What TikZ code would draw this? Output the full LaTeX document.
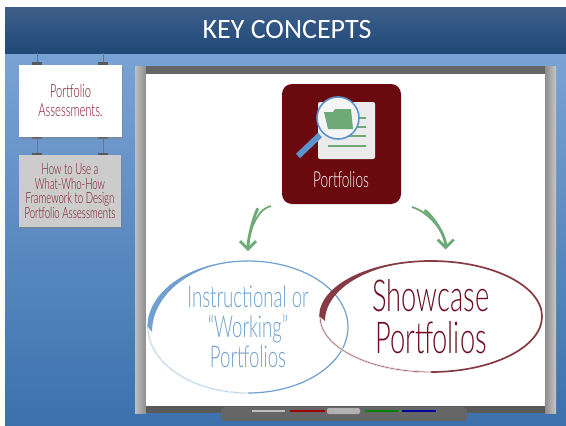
\documentclass[tikz,border=0pt]{standalone}
\usepackage{fontspec}
\setmainfont{Carlito}
\newfontfamily\handfont[FakeStretch=0.62]{Lato Light}
\usetikzlibrary{arrows.meta,shapes.geometric,shadows}
\definecolor{wine}{HTML}{6B0A0E}
\definecolor{plum}{HTML}{7F1028}
\definecolor{ringred}{HTML}{843C42}
\definecolor{ringblue}{HTML}{6FA0CF}
\definecolor{lensblue}{HTML}{5B93CC}
\definecolor{leaf}{HTML}{6DAA78}
\definecolor{slidetop}{HTML}{7AA3D5}
\definecolor{slidebottom}{HTML}{3C71AC}
\definecolor{bartop}{HTML}{3E5F8A}
\definecolor{barbottom}{HTML}{204878}
\begin{document}
\begin{tikzpicture}[
        x=1pt, y=-1pt,
        card/.style={minimum width=103pt, minimum height=72pt, inner sep=0pt, align=center,
            text=plum, drop shadow={shadow xshift=0.5pt, shadow yshift=-1.5pt, opacity=0.45}},
        clip bar/.style={fill=black!65},
        wire/.style={black!55, line width=0.8pt},
        ring/.style={ellipse, draw, inner sep=0pt, outer sep=0pt, align=center},
        sweep/.style={leaf, line width=1.8pt, shorten <=11pt},
        sweep head/.style={-{Straight Barb[length=8pt,width=16pt,line width=2.8pt]}, leaf, line width=2.8pt,
            shorten <=24pt},
        page line/.style={leaf, line width=1.4pt}
    ]
    \useasboundingbox (0,0) rectangle (566,426);

    % Background and title bar
    \shade[top color=slidetop, bottom color=slidebottom] (5,53) rectangle (566,426);
    \shade[top color=bartop, bottom color=barbottom] (5,7) rectangle (566,53);
    \node[white, font=\fontsize{28}{32}\selectfont] (title) at (287,30) {KEY CONCEPTS};

    % Hanging cards
    \foreach \x in {37,103} {
        \draw[wire] (\x,53) -- (\x,155);
        \fill[clip bar] (\x-5,62) rectangle (\x+5,65);
        \fill[clip bar] (\x-5,137) rectangle (\x+5,139);
        \fill[clip bar] (\x-5,153) rectangle (\x+5,156);
    }
    \node[card, fill=white, font=\handfont\fontsize{18}{19}\selectfont] (assess) at (70.5,101)
        {Portfolio\\Assessments.};
    \node[card, fill=black!20, minimum width=102pt, font=\handfont\fontsize{15.5}{14.5}\selectfont] (framework) at (70,191)
        {How to Use a\\What-Who-How\\Framework to Design\\Portfolio Assessments};

    % Whiteboard
    \shade[left color=black!25, right color=black!45] (135,66) rectangle (146,413);
    \shade[left color=black!45, right color=black!22] (545,66) rectangle (556,413);
    \fill[black!60] (146,66) rectangle (545,74);
    \fill[white] (146,74) rectangle (545,406);
    \fill[black!65] (146,406) rectangle (545,413);

    % Tray with markers
    \fill[black!60, rounded corners=3pt] (221,407) rectangle (467,421);
    \fill[black!25] (252,410) rectangle (285,412);
    \fill[red!60!black] (290,410) rectangle (325,412);
    \fill[black!30, rounded corners=2pt] (327,408) rectangle (360,414);
    \fill[green!50!black] (365,410) rectangle (398,412);
    \fill[blue!60!black] (402,410) rectangle (436,412);

    % Portfolio icon
    \node[fill=wine, rounded corners=10pt, minimum width=119pt, minimum height=120pt,
          inner sep=0pt] (portfolios) at (341.5,144) {};
    \fill[black!8, rounded corners=2pt] (318,102) rectangle (375,159);
    \foreach \y/\xa in {118/350,127/350,136/345,146/328}
        \draw[page line] (\xa,\y) -- (366,\y);
    \draw[lensblue, line width=6pt] (320,135) -- (298,156);
    \fill[black!4] (338,118) circle (21);
    \fill[leaf] (324,112) -- (333,112) -- (335,109) -- (351,109) -- (353,129) -- (328,129) -- cycle;
    \draw[lensblue, line width=1.6pt] (338,118) circle (21);
    \node[white, font=\handfont\fontsize{22}{24}\selectfont] (portfoliosname) at (341,180) {Portfolios};

    % Rings
    \node[ring, line width=1.2pt, draw=ringblue, text=ringblue, minimum width=200pt, minimum height=132pt,
          font=\handfont\fontsize{30}{30}\selectfont] (instructional) at (248,327)
        {Instructional or\\“Working”\\Portfolios};
    \node[ring, line width=1.7pt, draw=ringred, text=plum!85!black, minimum width=222pt, minimum height=111pt,
          font=\handfont\fontsize{44}{42}\selectfont] (showcase) at (431,316.5)
        {Showcase\\Portfolios};
    \draw[white, line width=1.6pt] (148,327) arc[start angle=180, end angle=90, x radius=100, y radius=66];
    \draw[ringblue!50, line width=0.7pt] (148,327) arc[start angle=180, end angle=90, x radius=100, y radius=66];
    \draw[white, line width=2.1pt] (320,316.5) arc[start angle=180, end angle=90, x radius=111, y radius=55.5];
    \draw[ringred!70, line width=0.8pt] (320,316.5) arc[start angle=180, end angle=90, x radius=111, y radius=55.5];
    \fill[ringblue] (148,327) arc[start angle=180, end angle=270, x radius=100, y radius=66]
        arc[start angle=270, end angle=180, x radius=96, y radius=71] -- cycle;
    \fill[ringred] (320,316.5) arc[start angle=180, end angle=270, x radius=111, y radius=55.5]
        arc[start angle=270, end angle=180, x radius=106, y radius=60] -- cycle;

    % Arrows
    \draw[sweep, shorten >=14pt] (portfolios.south west) to[out=190, in=90] (instructional.north);
    \draw[sweep head, shorten >=10pt] (portfolios.south west) to[out=190, in=90] (instructional.north);
    \draw[sweep, shorten >=16pt] (portfolios.south east) to[out=-15, in=90] (showcase.75);
    \draw[sweep head, shorten >=12pt] (portfolios.south east) to[out=-15, in=90] (showcase.75);

    \end{tikzpicture}
\end{document}
